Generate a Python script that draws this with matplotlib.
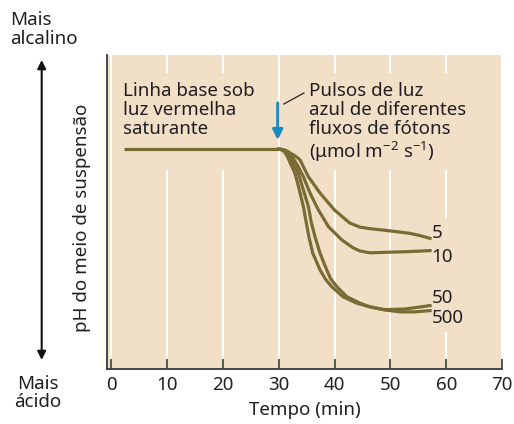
import matplotlib
matplotlib.use("Agg")
import matplotlib.pyplot as plt
from matplotlib.patches import Rectangle, FancyArrowPatch

plt.rcParams['font.family'] = ['Noto Sans', 'DejaVu Sans']
plt.rcParams['mathtext.fontset'] = 'custom'
plt.rcParams['mathtext.rm'] = 'Noto Sans'
plt.rcParams['mathtext.it'] = 'Noto Sans:italic'
plt.rcParams['mathtext.bf'] = 'Noto Sans:bold'

# ---- data (time in min, pH in arbitrary units) ----
base_t = [2.2, 30]
base_ph = [7.00, 7.00]

t_500 = [30, 30.4, 31.0, 31.5, 32.2, 32.9, 33.6, 34.4, 34.9, 35.4, 36.1, 37.4, 38.4, 39.5, 41.5, 43.9, 46.3, 49.0, 51.7, 54.4, 57.1]
ph_500 = [7.00, 6.99, 6.92, 6.78, 6.50, 6.23, 5.76, 5.17, 4.68, 4.20, 3.68, 3.15, 2.85, 2.62, 2.30, 2.10, 1.98, 1.88, 1.82, 1.82, 1.86]

t_50 = [30, 30.5, 31.2, 31.9, 32.7, 33.5, 34.3, 35.3, 35.8, 36.5, 37.4, 38.6, 39.3, 40.4, 42.2, 44.5, 46.3, 49.0, 52.6, 57.1]
ph_50 = [7.00, 6.99, 6.93, 6.80, 6.50, 6.23, 5.76, 5.17, 4.68, 4.20, 3.68, 3.15, 2.87, 2.62, 2.30, 2.10, 1.98, 1.89, 1.91, 2.02]

t_10 = [30, 30.6, 31.2, 31.8, 32.5, 33.3, 34.4, 35.6, 37.1, 38.9, 41.3, 43.3, 44.5, 46.3, 49.9, 53.5, 57.1]
ph_10 = [7.00, 6.99, 6.95, 6.88, 6.72, 6.50, 6.12, 5.60, 5.06, 4.53, 4.11, 3.86, 3.76, 3.70, 3.72, 3.74, 3.77]

t_5 = [30, 30.7, 31.4, 32.0, 32.9, 33.8, 35.3, 37.4, 40.0, 42.7, 44.5, 46.3, 49.9, 53.5, 55.3, 57.1]
ph_5 = [7.00, 6.99, 6.95, 6.88, 6.79, 6.66, 6.12, 5.60, 5.06, 4.65, 4.52, 4.47, 4.40, 4.32, 4.25, 4.16]

series = [("5", t_5, ph_5, 4.33), ("10", t_10, ph_10, 3.57),
          ("50", t_50, ph_50, 2.25), ("500", t_500, ph_500, 1.64)]

xticks = [0, 10, 20, 30, 40, 50, 60, 70]

BG = '#f1dfc8'
LINE = '#7a6b34'
TXT = '#231f20'
BLUE = '#1a8cc0'
FS = 13.5

fig = plt.figure(figsize=(5.14, 4.24), dpi=100)
W, H = 514, 424
ax = fig.add_axes([107 / W, 55 / H, (502 - 107) / W, (369 - 55) / H])
ax.set_facecolor(BG)
ax.set_xlim(-0.8, 70)
ax.set_ylim(0, 10)

for s in ['top', 'right']:
    ax.spines[s].set_visible(False)
for s in ['left', 'bottom']:
    ax.spines[s].set_color('#3a3a3a')
    ax.spines[s].set_linewidth(1.3)

ax.set_yticks([])
ax.set_xticks(xticks)
ax.set_xticklabels([str(v) for v in xticks], fontsize=FS, color=TXT)
ax.tick_params(axis='x', direction='in', length=7, width=1.2, color='#3a3a3a', pad=5)
ax.set_axisbelow(True)
ax.grid(axis='x', color='white', linewidth=1.4)
ax.set_xlabel('Tempo (min)', fontsize=FS, color=TXT, labelpad=5)

# masks behind text (interrupt grid lines)
for (x0, x1, y0, y1) in [(0.6, 28.4, 6.34, 9.43), (32.0, 66.0, 6.34, 9.43), (55.3, 69.6, 1.18, 4.81)]:
    ax.add_patch(Rectangle((x0, y0), x1 - x0, y1 - y0, facecolor=BG, edgecolor='none', zorder=1))

lw = 2.3
ax.plot(base_t, base_ph, color=LINE, lw=lw, solid_capstyle='butt', zorder=3)
for lab, t, ph, ly in series:
    ax.plot(t, ph, color=LINE, lw=lw, solid_joinstyle='round', zorder=3)
    ax.text(57.4, ly, lab, fontsize=FS, color=TXT, ha='left', va='center', zorder=4)

ax.text(2.0, 9.15, 'Linha base sob\nluz vermelha\nsaturante', fontsize=FS, color=TXT,
        ha='left', va='top', linespacing=1.1, zorder=4)
ax.text(35.4, 9.15, 'Pulsos de luz\nazul de diferentes\nfluxos de fótons\n(μmol m$^{-2}$ s$^{-1}$)',
        fontsize=FS, color=TXT, ha='left', va='top', linespacing=1.1, zorder=4)

ax.annotate('', xy=(29.8, 7.29), xytext=(29.8, 8.47),
            arrowprops=dict(arrowstyle='-|>,head_length=0.6,head_width=0.3', color=BLUE, lw=2.2,
                            shrinkA=0, shrinkB=0), zorder=4)
ax.plot([30.9, 34.5], [8.44, 8.79], color=TXT, lw=0.9, zorder=4)

# left-hand annotations
fig.text(10 / W, 1 - 11 / H, 'Mais\nalcalino', fontsize=FS, color=TXT, ha='left', va='top', linespacing=1.05)
fig.text(38 / W, 1 - 393 / H, 'Mais\nácido', fontsize=FS, color=TXT, ha='center', va='center', linespacing=1.05)
fig.text(82 / W, 1 - 218 / H, 'pH do meio de suspensão', fontsize=FS, color=TXT, rotation=90,
         ha='center', va='center')
fig.add_artist(FancyArrowPatch((41.7 / W, 1 - 60 / H), (41.7 / W, 1 - 360 / H),
               transform=fig.transFigure, arrowstyle='<|-|>,head_length=5,head_width=2.5',
               color='#111111', lw=1.5, shrinkA=0, shrinkB=0))

fig.savefig('out.png', dpi=100)
